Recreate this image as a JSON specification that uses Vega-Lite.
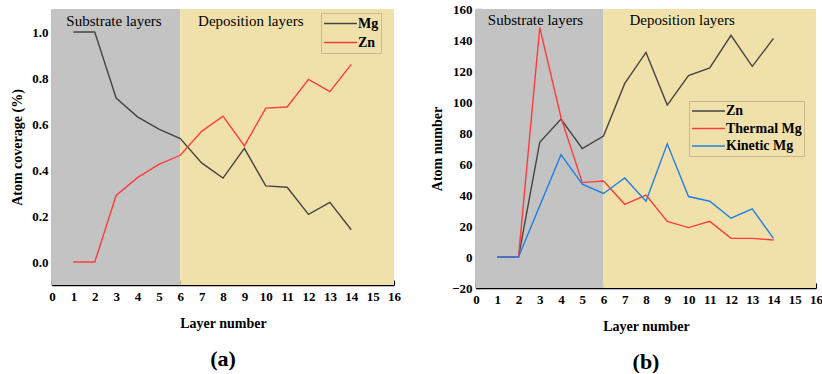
{
  "$schema": "https://vega.github.io/schema/vega-lite/v6.json",
  "background": "white",
  "padding": {"left": 10, "top": 3, "right": 5, "bottom": 0},
  "spacing": 29,
  "resolve": {"scale": {"stroke": "independent", "fill": "independent", "y": "independent"}, "legend": {"stroke": "independent"}},
  "config": {
    "font": "Liberation Serif",
    "view": {"stroke": null},
    "axis": {
      "labelFont": "Liberation Serif", "labelFontWeight": "bold", "labelFontSize": 13, "labelColor": "black",
      "titleFont": "Liberation Serif", "titleFontWeight": "bold", "titleFontSize": 14, "titleColor": "black",
      "domainColor": "black", "domainWidth": 1.5, "tickColor": "black", "tickWidth": 1.2,
      "grid": false, "zindex": 1, "labelOverlap": false
    },
    "legend": {
      "orient": "none", "title": null, "symbolType": "stroke", "symbolSize": 1089, "symbolStrokeWidth": 1.4,
      "labelFont": "Liberation Serif", "labelFontWeight": "bold", "labelFontSize": 14, "labelColor": "black",
      "labelOffset": 0, "fillColor": "#f0e1aa", "strokeColor": "#c9b98c", "padding": 2, "cornerRadius": 0
    },
    "title": {"font": "Liberation Serif", "fontSize": 22, "fontWeight": "bold", "color": "black", "orient": "bottom", "offset": 19}
  },
  "datasets": {
    "regions_a": [
      {"x0": 0, "x1": 6, "region": "Substrate layers", "lx": 2.9},
      {"x0": 6, "x1": 16, "region": "Deposition layers", "lx": 9.3}
    ],
    "regions_b": [
      {"x0": 0, "x1": 6, "region": "Substrate layers", "lx": 2.8},
      {"x0": 6, "x1": 16, "region": "Deposition layers", "lx": 9.7}
    ],
    "coverage": [
      {"layer": 1, "series": "Mg", "value": 1.0},
      {"layer": 2, "series": "Mg", "value": 1.0},
      {"layer": 3, "series": "Mg", "value": 0.713},
      {"layer": 4, "series": "Mg", "value": 0.631},
      {"layer": 5, "series": "Mg", "value": 0.578},
      {"layer": 6, "series": "Mg", "value": 0.537},
      {"layer": 7, "series": "Mg", "value": 0.431},
      {"layer": 8, "series": "Mg", "value": 0.365},
      {"layer": 9, "series": "Mg", "value": 0.494},
      {"layer": 10, "series": "Mg", "value": 0.331},
      {"layer": 11, "series": "Mg", "value": 0.325},
      {"layer": 12, "series": "Mg", "value": 0.207},
      {"layer": 13, "series": "Mg", "value": 0.259},
      {"layer": 14, "series": "Mg", "value": 0.140},
      {"layer": 1, "series": "Zn", "value": 0.0},
      {"layer": 2, "series": "Zn", "value": 0.0},
      {"layer": 3, "series": "Zn", "value": 0.289},
      {"layer": 4, "series": "Zn", "value": 0.367},
      {"layer": 5, "series": "Zn", "value": 0.424},
      {"layer": 6, "series": "Zn", "value": 0.464},
      {"layer": 7, "series": "Zn", "value": 0.568},
      {"layer": 8, "series": "Zn", "value": 0.634},
      {"layer": 9, "series": "Zn", "value": 0.505},
      {"layer": 10, "series": "Zn", "value": 0.669},
      {"layer": 11, "series": "Zn", "value": 0.674},
      {"layer": 12, "series": "Zn", "value": 0.794},
      {"layer": 13, "series": "Zn", "value": 0.741},
      {"layer": 14, "series": "Zn", "value": 0.859}
    ],
    "counts": [
      {"layer": 1, "series": "Zn", "value": 0},
      {"layer": 2, "series": "Zn", "value": 0},
      {"layer": 3, "series": "Zn", "value": 74},
      {"layer": 4, "series": "Zn", "value": 89},
      {"layer": 5, "series": "Zn", "value": 70},
      {"layer": 6, "series": "Zn", "value": 78},
      {"layer": 7, "series": "Zn", "value": 112},
      {"layer": 8, "series": "Zn", "value": 132},
      {"layer": 9, "series": "Zn", "value": 98},
      {"layer": 10, "series": "Zn", "value": 117},
      {"layer": 11, "series": "Zn", "value": 122},
      {"layer": 12, "series": "Zn", "value": 143},
      {"layer": 13, "series": "Zn", "value": 123},
      {"layer": 14, "series": "Zn", "value": 141},
      {"layer": 1, "series": "Thermal Mg", "value": 0},
      {"layer": 2, "series": "Thermal Mg", "value": 0},
      {"layer": 3, "series": "Thermal Mg", "value": 148},
      {"layer": 4, "series": "Thermal Mg", "value": 90},
      {"layer": 5, "series": "Thermal Mg", "value": 48},
      {"layer": 6, "series": "Thermal Mg", "value": 49},
      {"layer": 7, "series": "Thermal Mg", "value": 34},
      {"layer": 8, "series": "Thermal Mg", "value": 40},
      {"layer": 9, "series": "Thermal Mg", "value": 23},
      {"layer": 10, "series": "Thermal Mg", "value": 19},
      {"layer": 11, "series": "Thermal Mg", "value": 23},
      {"layer": 12, "series": "Thermal Mg", "value": 12},
      {"layer": 13, "series": "Thermal Mg", "value": 12},
      {"layer": 14, "series": "Thermal Mg", "value": 11},
      {"layer": 1, "series": "Kinetic Mg", "value": 0},
      {"layer": 2, "series": "Kinetic Mg", "value": 0},
      {"layer": 3, "series": "Kinetic Mg", "value": 33},
      {"layer": 4, "series": "Kinetic Mg", "value": 66},
      {"layer": 5, "series": "Kinetic Mg", "value": 47},
      {"layer": 6, "series": "Kinetic Mg", "value": 41},
      {"layer": 7, "series": "Kinetic Mg", "value": 51},
      {"layer": 8, "series": "Kinetic Mg", "value": 36},
      {"layer": 9, "series": "Kinetic Mg", "value": 73},
      {"layer": 10, "series": "Kinetic Mg", "value": 39},
      {"layer": 11, "series": "Kinetic Mg", "value": 36},
      {"layer": 12, "series": "Kinetic Mg", "value": 25},
      {"layer": 13, "series": "Kinetic Mg", "value": 31},
      {"layer": 14, "series": "Kinetic Mg", "value": 12}
    ]
  },
  "hconcat": [
    {
      "width": 342,
      "height": 276,
      "title": {"text": "(a)"},
      "encoding": {
        "x": {
          "type": "quantitative",
          "scale": {"domain": [0, 16], "nice": false, "zero": false},
          "axis": {"title": "Layer number", "values": [0,1,2,3,4,5,6,7,8,9,10,11,12,13,14,15,16], "format": "d", "tickSize": -5, "labelPadding": 10, "titlePadding": 13, "labelFlush": false, "labelOverlap": false}
        }
      },
      "layer": [
        {
          "data": {"name": "regions_a"},
          "mark": {"type": "rect"},
          "encoding": {
            "x": {"field": "x0"},
            "x2": {"field": "x1"},
            "y": {"datum": -0.1, "type": "quantitative",
              "scale": {"domain": [-0.1, 1.1], "nice": false, "zero": false},
              "axis": {
                "title": "Atom coverage (%)",
                "values": [0, 0.1, 0.2, 0.3, 0.4, 0.5, 0.6, 0.7, 0.8, 0.9, 1.0],
                "labelExpr": "abs(round(datum.value * 10)) % 2 == 1 ? '' : format(datum.value, '.1f')",
                "tickSize": {"condition": {"test": "abs(round(datum.value * 10)) % 2 == 1", "value": -3}, "value": -5},
                "labelPadding": 9, "titlePadding": 7, "labelOverlap": false
              }},
            "y2": {"datum": 1.1},
            "fill": {"field": "region", "type": "nominal", "scale": {"domain": ["Substrate layers", "Deposition layers"], "range": ["#c3c3c3", "#f0e1aa"]}, "legend": null}
          }
        },
        {
          "mark": {"type": "rule", "color": "#c9b98c", "strokeWidth": 1.5},
          "encoding": {"x": {"datum": 6}}
        },
        {
          "data": {"name": "regions_a"},
          "mark": {"type": "text", "font": "Liberation Serif", "fontSize": 15, "color": "black", "align": "center", "baseline": "middle"},
          "encoding": {
            "x": {"field": "lx"},
            "y": {"datum": 1.048, "type": "quantitative",
              "scale": {"domain": [-0.1, 1.1], "nice": false, "zero": false},
              "axis": {
                "title": "Atom coverage (%)",
                "values": [0, 0.1, 0.2, 0.3, 0.4, 0.5, 0.6, 0.7, 0.8, 0.9, 1.0],
                "labelExpr": "abs(round(datum.value * 10)) % 2 == 1 ? '' : format(datum.value, '.1f')",
                "tickSize": {"condition": {"test": "abs(round(datum.value * 10)) % 2 == 1", "value": -3}, "value": -5},
                "labelPadding": 9, "titlePadding": 7, "labelOverlap": false
              }},
            "text": {"field": "region"}
          }
        },
        {
          "data": {"name": "coverage"},
          "mark": {"type": "line", "strokeWidth": 1.4},
          "encoding": {
            "x": {"field": "layer"},
            "y": {"field": "value", "type": "quantitative",
              "scale": {"domain": [-0.1, 1.1], "nice": false, "zero": false},
              "axis": {
                "title": "Atom coverage (%)",
                "values": [0, 0.1, 0.2, 0.3, 0.4, 0.5, 0.6, 0.7, 0.8, 0.9, 1.0],
                "labelExpr": "abs(round(datum.value * 10)) % 2 == 1 ? '' : format(datum.value, '.1f')",
                "tickSize": {"condition": {"test": "abs(round(datum.value * 10)) % 2 == 1", "value": -3}, "value": -5},
                "labelPadding": 9, "titlePadding": 7, "labelOverlap": false
              }},
            "stroke": {"field": "series", "type": "nominal",
              "scale": {"domain": ["Mg", "Zn"], "range": ["#454545", "#ff3c3c"]},
              "legend": {"legendX": 269, "legendY": 4, "clipHeight": 17, "rowPadding": 2}}
          }
        },
        {
          "mark": {"type": "rect", "fillOpacity": 0, "stroke": "black", "strokeWidth": 1.5},
          "encoding": {
            "x": {"datum": 0}, "x2": {"datum": 16},
            "y": {"datum": -0.1, "type": "quantitative",
              "scale": {"domain": [-0.1, 1.1], "nice": false, "zero": false},
              "axis": {
                "title": "Atom coverage (%)",
                "values": [0, 0.1, 0.2, 0.3, 0.4, 0.5, 0.6, 0.7, 0.8, 0.9, 1.0],
                "labelExpr": "abs(round(datum.value * 10)) % 2 == 1 ? '' : format(datum.value, '.1f')",
                "tickSize": {"condition": {"test": "abs(round(datum.value * 10)) % 2 == 1", "value": -3}, "value": -5},
                "labelPadding": 9, "titlePadding": 7, "labelOverlap": false
              }},
            "y2": {"datum": 1.1}
          }
        }
      ]
    },
    {
      "width": 340,
      "height": 279,
      "title": {"text": "(b)"},
      "encoding": {
        "x": {
          "type": "quantitative",
          "scale": {"domain": [0, 16], "nice": false, "zero": false},
          "axis": {"title": "Layer number", "values": [0,1,2,3,4,5,6,7,8,9,10,11,12,13,14,15,16], "format": "d", "tickSize": -5, "labelPadding": 10, "titlePadding": 13, "labelFlush": false, "labelOverlap": false}
        }
      },
      "layer": [
        {
          "data": {"name": "regions_b"},
          "mark": {"type": "rect"},
          "encoding": {
            "x": {"field": "x0"},
            "x2": {"field": "x1"},
            "y": {"datum": -20, "type": "quantitative",
              "scale": {"domain": [-20, 160], "nice": false, "zero": false},
              "axis": {
                "title": "Atom number",
                "values": [-20, -10, 0, 10, 20, 30, 40, 50, 60, 70, 80, 90, 100, 110, 120, 130, 140, 150, 160],
                "labelExpr": "datum.value % 20 == 0 ? format(datum.value, 'd') : ''",
                "tickSize": {"condition": {"test": "datum.value % 20 != 0", "value": -3}, "value": -5},
                "labelPadding": 9, "titlePadding": 7, "labelOverlap": false
              }},
            "y2": {"datum": 160},
            "fill": {"field": "region", "type": "nominal", "scale": {"domain": ["Substrate layers", "Deposition layers"], "range": ["#c3c3c3", "#f0e1aa"]}, "legend": null}
          }
        },
        {
          "mark": {"type": "rule", "color": "#c9b98c", "strokeWidth": 1.5},
          "encoding": {"x": {"datum": 6}}
        },
        {
          "data": {"name": "regions_b"},
          "mark": {"type": "text", "font": "Liberation Serif", "fontSize": 15, "color": "black", "align": "center", "baseline": "middle"},
          "encoding": {
            "x": {"field": "lx"},
            "y": {"datum": 153, "type": "quantitative",
              "scale": {"domain": [-20, 160], "nice": false, "zero": false},
              "axis": {
                "title": "Atom number",
                "values": [-20, -10, 0, 10, 20, 30, 40, 50, 60, 70, 80, 90, 100, 110, 120, 130, 140, 150, 160],
                "labelExpr": "datum.value % 20 == 0 ? format(datum.value, 'd') : ''",
                "tickSize": {"condition": {"test": "datum.value % 20 != 0", "value": -3}, "value": -5},
                "labelPadding": 9, "titlePadding": 7, "labelOverlap": false
              }},
            "text": {"field": "region"}
          }
        },
        {
          "data": {"name": "counts"},
          "mark": {"type": "line", "strokeWidth": 1.4},
          "encoding": {
            "x": {"field": "layer"},
            "y": {"field": "value", "type": "quantitative",
              "scale": {"domain": [-20, 160], "nice": false, "zero": false},
              "axis": {
                "title": "Atom number",
                "values": [-20, -10, 0, 10, 20, 30, 40, 50, 60, 70, 80, 90, 100, 110, 120, 130, 140, 150, 160],
                "labelExpr": "datum.value % 20 == 0 ? format(datum.value, 'd') : ''",
                "tickSize": {"condition": {"test": "datum.value % 20 != 0", "value": -3}, "value": -5},
                "labelPadding": 9, "titlePadding": 7, "labelOverlap": false
              }},
            "stroke": {"field": "series", "type": "nominal",
              "scale": {"domain": ["Zn", "Thermal Mg", "Kinetic Mg"], "range": ["#454545", "#ff3c3c", "#1f7fe8"]},
              "legend": {"legendX": 213, "legendY": 92, "clipHeight": 16, "rowPadding": 1.5}}
          }
        },
        {
          "mark": {"type": "rect", "fillOpacity": 0, "stroke": "black", "strokeWidth": 1.5},
          "encoding": {
            "x": {"datum": 0}, "x2": {"datum": 16},
            "y": {"datum": -20, "type": "quantitative",
              "scale": {"domain": [-20, 160], "nice": false, "zero": false},
              "axis": {
                "title": "Atom number",
                "values": [-20, -10, 0, 10, 20, 30, 40, 50, 60, 70, 80, 90, 100, 110, 120, 130, 140, 150, 160],
                "labelExpr": "datum.value % 20 == 0 ? format(datum.value, 'd') : ''",
                "tickSize": {"condition": {"test": "datum.value % 20 != 0", "value": -3}, "value": -5},
                "labelPadding": 9, "titlePadding": 7, "labelOverlap": false
              }},
            "y2": {"datum": 160}
          }
        }
      ]
    }
  ]
}
